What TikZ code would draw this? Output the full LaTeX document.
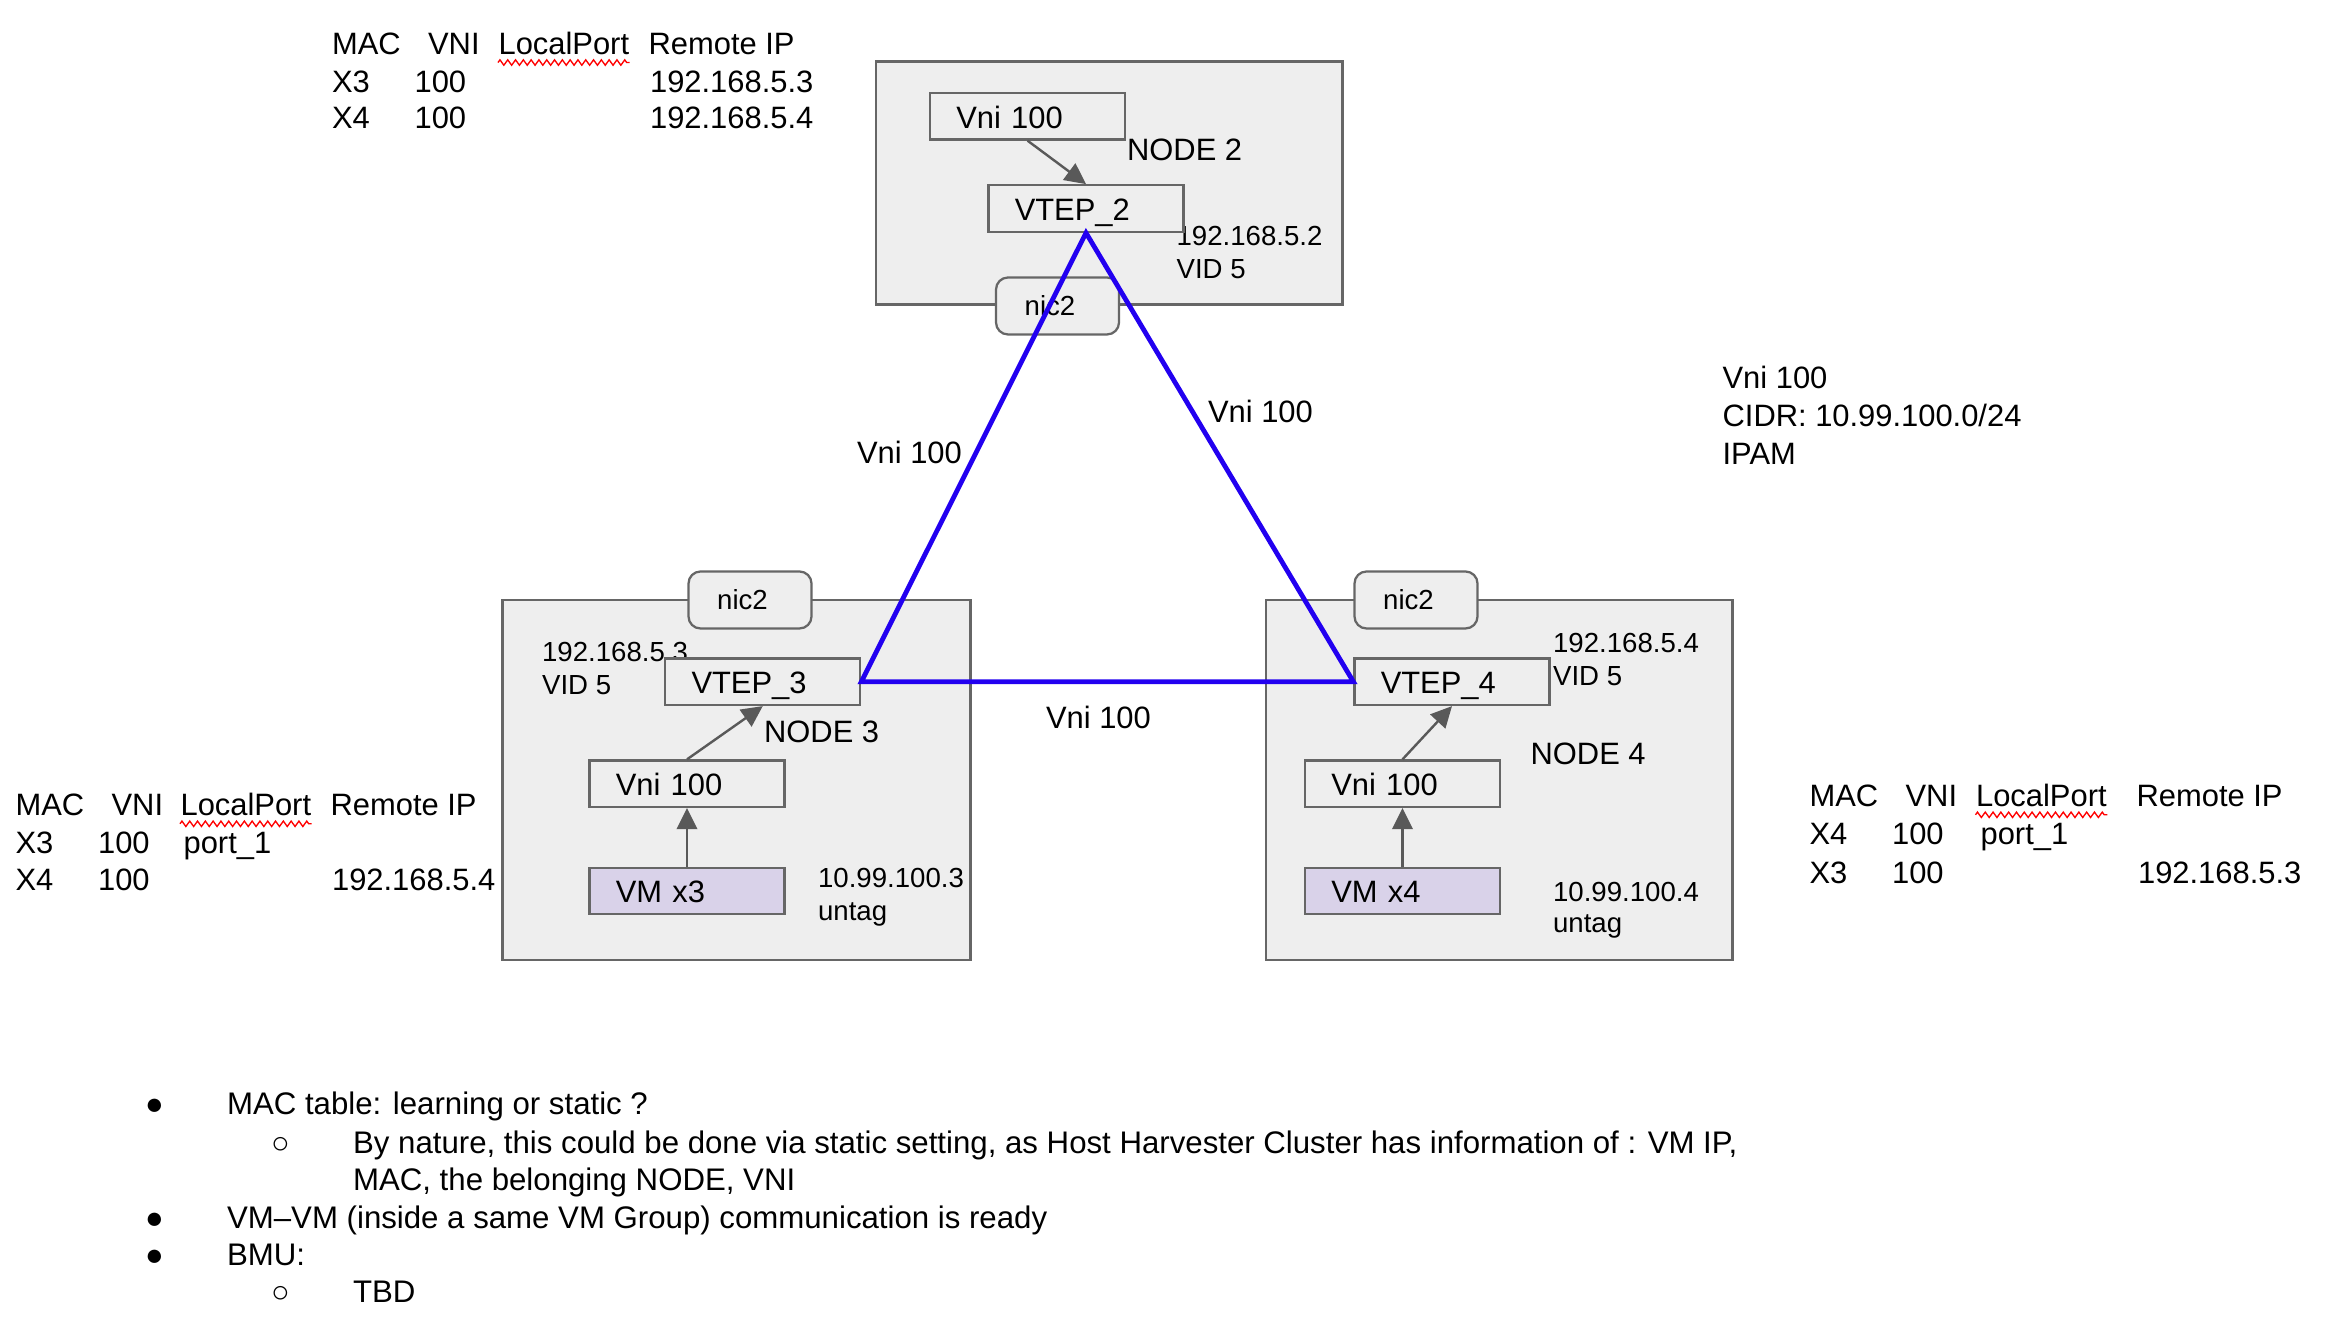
\documentclass[tikz,border=0pt]{standalone}
\usepackage{fontspec}
\setmainfont{Liberation Sans}
\usetikzlibrary{arrows.meta,decorations.pathmorphing}
\definecolor{bordergray}{HTML}{666666}
\definecolor{boxfill}{HTML}{EEEEEE}
\definecolor{vmfill}{HTML}{D9D2E9}
\definecolor{arrowgray}{HTML}{595959}
\definecolor{vxblue}{RGB}{34,0,240}
\begin{document}
\begin{tikzpicture}[x=0.5pt,y=-0.5pt,
  nodebox/.style={draw=bordergray, line width=0.75pt, fill=boxfill, inner sep=0pt},
  inbox/.style={draw=bordergray, line width=0.75pt, fill=boxfill, minimum width=65pt, minimum height=15.5pt, inner xsep=8.75pt, inner ysep=0pt, text width=47.5pt, text height=8pt, text depth=0pt, align=left, font=\fontsize{10.3}{12}\selectfont},
  vmbox/.style={inbox, fill=vmfill},
  nicbox/.style={draw=bordergray, line width=0.75pt, fill=boxfill, rounded corners=4pt, minimum width=41pt, minimum height=19pt, inner sep=0pt, font=\fontsize{9.2}{11}\selectfont},
  txt/.style={anchor=base west, inner sep=0pt, font=\fontsize{10.3}{12}\selectfont},
  btxt/.style={anchor=base west, inner sep=0pt, font=\fontsize{10.4}{12}\selectfont},
  small/.style={anchor=base west, inner sep=0pt, font=\fontsize{9.2}{11}\selectfont},
  bul/.style={anchor=base, inner sep=0pt, font=\fontsize{10.3}{12}\selectfont},
  flow/.style={draw=arrowgray, line width=0.8pt, -{Triangle[length=7pt,width=6.8pt]}},
  vxlan/.style={draw=vxblue, line width=1.6pt, line join=miter},
  squig/.style={draw=red, line width=0.45pt, decorate, decoration={zigzag, amplitude=0.9pt, segment length=2.6pt}}
]
\useasboundingbox (0,0) rectangle (1560,892);

% ---- top MAC table ----
\node[txt] (ta1) at (221,36.5) {MAC};
\node[txt] (ta2) at (285,36.5) {VNI};
\node[txt] (ta3) at (332,36.5) {LocalPort};
\node[txt] (ta4) at (432,36.5) {Remote IP};
\node[txt] (tb1) at (221,61.5) {X3};
\node[txt] (tb2) at (276,61.5) {100};
\node[txt] (tb4) at (433,61.5) {192.168.5.3};
\node[txt] (tc1) at (221,86) {X4};
\node[txt] (tc2) at (276,86) {100};
\node[txt] (tc4) at (433,86) {192.168.5.4};
\draw[squig] ([yshift=-2.3pt]ta3.south west) -- ([yshift=-2.3pt]ta3.south east);

% ---- left MAC table ----
\node[txt] (la1) at (10,544) {MAC};
\node[txt] (la2) at (74,544) {VNI};
\node[txt] (la3) at (120,544) {LocalPort};
\node[txt] (la4) at (220,544) {Remote IP};
\node[txt] (lb1) at (10,569) {X3};
\node[txt] (lb2) at (65,569) {100};
\node[txt] (lb3) at (122,569) {port\_1};
\node[txt] (lc1) at (10,594) {X4};
\node[txt] (lc2) at (65,594) {100};
\node[txt] (lc4) at (221,594) {192.168.5.4};
\draw[squig] ([yshift=-2.3pt]la3.south west) -- ([yshift=-2.3pt]la3.south east);

% ---- right MAC table ----
\node[txt] (ra1) at (1206,538) {MAC};
\node[txt] (ra2) at (1270,538) {VNI};
\node[txt] (ra3) at (1317,538) {LocalPort};
\node[txt] (ra4) at (1424,538) {Remote IP};
\node[txt] (rb1) at (1206,563) {X4};
\node[txt] (rb2) at (1261,563) {100};
\node[txt] (rb3) at (1320,563) {port\_1};
\node[txt] (rc1) at (1206,589) {X3};
\node[txt] (rc2) at (1261,589) {100};
\node[txt] (rc4) at (1425,589) {192.168.5.3};
\draw[squig] ([yshift=-2.3pt]ra3.south west) -- ([yshift=-2.3pt]ra3.south east);

% ---- Vni info ----
\node[txt] (i1) at (1148,259) {Vni 100};
\node[txt] (i2) at (1148,284.5) {CIDR: 10.99.100.0/24};
\node[txt] (i3) at (1148,310) {IPAM};

% ---- NODE 2 ----
\node[nodebox, minimum width=155.5pt, minimum height=81pt] (n2) at (739.5,122) {};
\node[txt] (n2lbl) at (751,107) {NODE 2};
\node[small] (n2ip) at (784,164) {192.168.5.2};
\node[small] (n2vid) at (784,186) {VID 5};
\node[nicbox] (nic2a) at (705,204) {\hspace*{-5pt}nic2};
\node[inbox] (v2) at (685,77.5) {Vni 100};
\node[inbox] (t2) at (724,139) {VTEP\_2};
\draw[flow] (v2.south) -- (t2.north);

% ---- NODE 3 ----
\node[nodebox, minimum width=156pt, minimum height=120pt] (n3) at (491,520) {};
\node[nicbox] (nic3) at (500,400) {\hspace*{-5pt}nic2};
\node[small] (n3ip) at (361,441) {192.168.5.3};
\node[small] (n3vid) at (361,463) {VID 5};
\node[txt] (n3lbl) at (509,495) {NODE 3};
\node[small] (n3vmip) at (545,592) {10.99.100.3};
\node[small] (n3untag) at (545,614) {untag};
\node[inbox] (t3) at (508.5,454.5) {VTEP\_3};
\node[inbox] (v3) at (458,522.5) {Vni 100};
\node[vmbox] (m3) at (458,594) {VM x3};
\draw[flow] (m3.north) -- (v3.south);
\draw[flow] (v3.north) -- (t3.south);

% ---- NODE 4 ----
\node[nodebox, minimum width=155.5pt, minimum height=120pt] (n4) at (999.5,520) {};
\node[nicbox] (nic4) at (944,400) {\hspace*{-5pt}nic2};
\node[small] (n4ip) at (1035,435) {192.168.5.4};
\node[small] (n4vid) at (1035,457) {VID 5};
\node[txt] (n4lbl) at (1020,510) {NODE 4};
\node[small] (n4vmip) at (1035,601) {10.99.100.4};
\node[small] (n4untag) at (1035,622) {untag};
\node[inbox] (t4) at (968,454.5) {VTEP\_4};
\node[inbox] (v4) at (935,522.5) {Vni 100};
\node[vmbox] (m4) at (935,594) {VM x4};
\draw[flow] (m4.north) -- (v4.south);
\draw[flow] (v4.north) -- (t4.south);

% ---- VXLAN triangle ----
\draw[vxlan] (t2.south) -- (t3.east) -- (t4.west) -- cycle;
\node[txt] (e1) at (571,309) {Vni 100};
\node[txt] (e2) at (805,282) {Vni 100};
\node[txt] (e3) at (697,485.5) {Vni 100};

% ---- bullet list ----
\node[bul] (b1) at (103,743) {●};
\node[btxt] (b1t) at (151,743) {MAC table: learning or static ?};
\node[bul] (b2) at (187,769) {○};
\node[btxt] (b2t) at (235,769) {By nature, this could be done via static setting, as Host Harvester Cluster has information of : VM IP,};
\node[btxt] (b2u) at (235,794) {MAC, the belonging NODE, VNI};
\node[bul] (b3) at (103,819) {●};
\node[btxt] (b3t) at (151,819) {VM–VM (inside a same VM Group) communication is ready};
\node[bul] (b4) at (103,844) {●};
\node[btxt] (b4t) at (151,844) {BMU:};
\node[bul] (b5) at (187,868.5) {○};
\node[btxt] (b5t) at (235,868.5) {TBD};
\end{tikzpicture}
\end{document}
